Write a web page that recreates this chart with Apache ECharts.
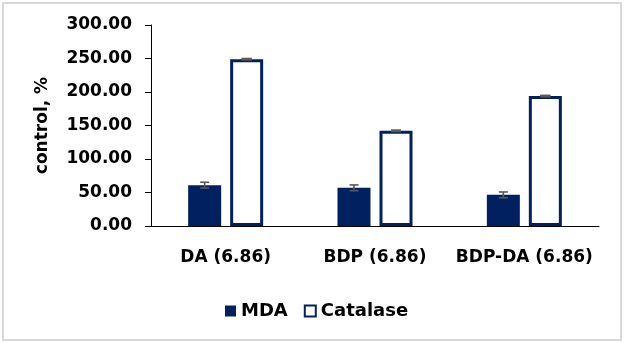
<!DOCTYPE html>
<html>
<head>
<meta charset="utf-8">
<script src="https://cdn.jsdelivr.net/npm/echarts@6/dist/echarts.min.js"></script>
<style>
  html, body { margin: 0; padding: 0; background: #ffffff; }
  #chart { width: 624px; height: 343px; }
</style>
</head>
<body>
<div id="chart"></div>
<script>
// Treatment groups and measured responses (% of control)
const categories = ['DA (6.86)', 'BDP (6.86)', 'BDP-DA (6.86)'];
const mdaValues = [61, 57, 46.5];
const mdaErrors = [4.3, 4.3, 4.3];
const catalaseValues = [249, 142, 194];
const catalaseErrors = [0.3, 0.3, 0.3];
const yTicks = { min: 0, max: 300, step: 50 };

const NAVY = '#002060';
const ERR = '#595959';
const FONT = 'DejaVu Sans';
const BAR_W = 33;
const BAR_GAP = 9;   // px between the two bars of a group

const chart = echarts.init(document.getElementById('chart'), null, { renderer: 'canvas' });

function errorData(values, errors) {
  return values.map((v, i) => [i, v - errors[i], v + errors[i]]);
}

// Draws a vertical error bar with caps, shifted to sit on its bar in the group
function errorRenderer(offsetPx, capW, lw) {
  return function (params, api) {
    const lo = api.coord([api.value(0), api.value(1)]);
    const hi = api.coord([api.value(0), api.value(2)]);
    const x = lo[0] + offsetPx;
    const style = { stroke: ERR, lineWidth: lw };
    return {
      type: 'group',
      children: [
        { type: 'line', shape: { x1: x, y1: lo[1], x2: x, y2: hi[1] }, style },
        { type: 'line', shape: { x1: x - capW / 2, y1: lo[1], x2: x + capW / 2, y2: lo[1] }, style },
        { type: 'line', shape: { x1: x - capW / 2, y1: hi[1], x2: x + capW / 2, y2: hi[1] }, style }
      ]
    };
  };
}

const half = (BAR_W + BAR_GAP) / 2;

chart.setOption({
  backgroundColor: '#ffffff',
  animation: false,
  graphic: [{
    type: 'rect',
    shape: { x: 3, y: 3, width: 618, height: 337 },
    style: { fill: 'none', stroke: '#d9d9d9', lineWidth: 2 },
    silent: true
  }],
  grid: { left: 151, right: 25, top: 25, bottom: 117 },
  legend: {
    left: 220,
    top: 297,
    itemWidth: 11,
    itemHeight: 11,
    itemGap: 16,
    textStyle: { fontFamily: FONT, fontWeight: 'bold', fontSize: 18, color: '#000' },
    data: [
      { name: 'MDA', icon: 'rect', itemStyle: { color: NAVY, borderWidth: 0 } },
      { name: 'Catalase', icon: 'rect', itemStyle: { color: '#fff', borderColor: NAVY, borderWidth: 2 } }
    ]
  },
  xAxis: {
    type: 'category',
    data: categories,
    axisLine: { lineStyle: { color: '#000', width: 1 } },
    axisTick: { show: false },
    axisLabel: {
      interval: 0,
      margin: 23,
      fontFamily: FONT, fontWeight: 'bold', fontSize: 17, color: '#000'
    }
  },
  yAxis: {
    type: 'value',
    min: yTicks.min,
    max: yTicks.max,
    interval: yTicks.step,
    name: 'control, %',
    nameLocation: 'middle',
    nameGap: 100,
    nameTextStyle: { fontFamily: FONT, fontWeight: 'bold', fontSize: 17, color: '#000' },
    axisLine: { show: true, lineStyle: { color: '#000', width: 1 } },
    axisTick: { show: true, length: 6, lineStyle: { color: '#000' } },
    splitLine: { show: false },
    axisLabel: {
      margin: 19,
      formatter: v => v.toFixed(2),
      fontFamily: FONT, fontWeight: 'bold', fontSize: 17, color: '#000'
    }
  },
  series: [
    {
      name: 'MDA',
      type: 'bar',
      data: mdaValues,
      barWidth: BAR_W,
      barGap: (BAR_GAP / BAR_W * 100) + '%',
      itemStyle: { color: NAVY, borderColor: NAVY, borderWidth: 3 }
    },
    {
      name: 'Catalase',
      type: 'bar',
      data: catalaseValues,
      barWidth: BAR_W,
      barGap: (BAR_GAP / BAR_W * 100) + '%',
      itemStyle: { color: '#ffffff', borderColor: NAVY, borderWidth: 3 }
    },
    {
      type: 'custom',
      name: 'MDA error',
      data: errorData(mdaValues, mdaErrors),
      renderItem: errorRenderer(-half, 9, 1.6),
      encode: { x: 0, y: [1, 2] },
      z: 5,
      silent: true
    },
    {
      type: 'custom',
      name: 'Catalase error',
      data: errorData(catalaseValues, catalaseErrors),
      renderItem: errorRenderer(half, 10, 2.5),
      encode: { x: 0, y: [1, 2] },
      z: 5,
      silent: true
    }
  ]
});
</script>
</body>
</html>
